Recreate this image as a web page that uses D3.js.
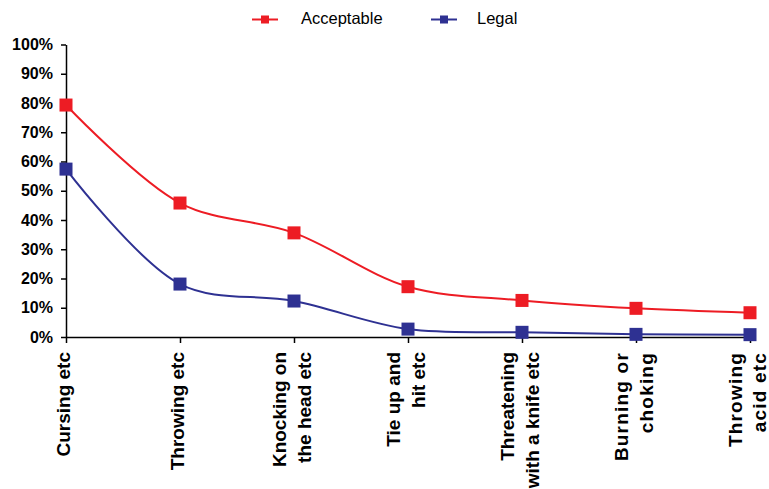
<!DOCTYPE html>
<html><head><meta charset="utf-8">
<script src="https://cdn.jsdelivr.net/npm/d3@7"></script>
<style>body{margin:0;background:#fff}svg{display:block}text{font-family:Arial,"Liberation Sans",sans-serif}</style>
</head><body>
<script>
const categories = [["Cursing etc"],["Throwing etc"],["Knocking on","the head etc"],["Tie up and","hit etc"],["Threatening","with a knife etc"],["Burning or","choking"],["Throwing","acid etc"]];
const categoryKeys = ["Cursing","Throwing","Knocking","TieUp","Threatening","Burning","Acid"];
const acceptable = [79.3, 45.8, 35.6, 17.2, 12.5, 9.8, 8.3];
const legal = [57.4, 18.1, 12.3, 2.7, 1.6, 0.9, 0.8];
const yTicks = [0,10,20,30,40,50,60,70,80,90,100];
const seriesNames = ["Acceptable","Legal"];
const colors = ["#ED1C24","#2E3192"];

const W = 769, H = 489;
const svg = d3.select("body").append("svg").attr("width", W).attr("height", H);
const x = d3.scalePoint().domain(categoryKeys).range([66, 750]).padding(0);
const y = d3.scaleLinear().domain([0, 100]).range([337, 44.5]);

// Y axis
const yAxis = svg.append("g").attr("transform", "translate(66,0)")
  .call(d3.axisLeft(y).tickValues(yTicks).tickFormat(d => d + "%").tickSize(5).tickSizeOuter(0));
yAxis.select(".domain").attr("stroke", "#000").attr("stroke-width", 1.5);
yAxis.selectAll(".tick line").attr("stroke", "#000").attr("stroke-width", 1.5);
yAxis.selectAll(".tick text").attr("font-size", 16).attr("font-weight", "bold").attr("fill", "#000").attr("x", -13)
  .attr("font-family", "Arial, 'Liberation Sans', sans-serif");

// X axis
const xAxis = svg.append("g").attr("transform", "translate(0,337)")
  .call(d3.axisBottom(x).tickSize(6).tickSizeOuter(0).tickFormat(""));
xAxis.select(".domain").attr("stroke", "#000").attr("stroke-width", 1.5);
xAxis.selectAll(".tick line").attr("stroke", "#000").attr("stroke-width", 1.5);

// X labels (rotated, top-aligned)
const spaced = new Set(["Burning", "Acid"]);
categoryKeys.forEach((k, i) => {
  const lines = categories[i];
  const n = lines.length;
  lines.forEach((ln, j) => {
    const b = Math.min(x(k) + 4 + (j - (n - 1) / 2) * 25, 766);
    svg.append("text")
      .attr("transform", `translate(${b},352) rotate(-90)`)
      .attr("text-anchor", "end")
      .attr("font-size", 19).attr("font-weight", "bold").attr("fill", "#000")
      .attr("letter-spacing", spaced.has(k) ? 1.2 : 0)
      .text(ln);
  });
});

// Lines
const line = d3.line().x((d, i) => x(categoryKeys[i])).y(d => y(d)).curve(d3.curveCatmullRom.alpha(0.5));
[acceptable, legal].forEach((data, s) => {
  svg.append("path").datum(data).attr("d", line).attr("fill", "none")
    .attr("stroke", colors[s]).attr("stroke-width", 2);
  svg.selectAll(null).data(data).enter().append("rect")
    .attr("x", (d, i) => x(categoryKeys[i]) - 6.5).attr("y", d => y(d) - 6.5)
    .attr("width", 13).attr("height", 13).attr("fill", colors[s]);
});

// Legend
const legendX = [252, 431];
const legendTextX = [301, 477];
seriesNames.forEach((name, s) => {
  const g = svg.append("g");
  g.append("line").attr("x1", legendX[s]).attr("x2", legendX[s] + 26).attr("y1", 19.5).attr("y2", 19.5)
    .attr("stroke", colors[s]).attr("stroke-width", 2);
  g.append("rect").attr("x", legendX[s] + 13 - 4).attr("y", 15.5).attr("width", 8).attr("height", 8).attr("fill", colors[s]);
  g.append("text").attr("x", legendTextX[s]).attr("y", 24).attr("font-size", 16.5).attr("fill", "#000").text(name);
});
</script>
</body></html>
